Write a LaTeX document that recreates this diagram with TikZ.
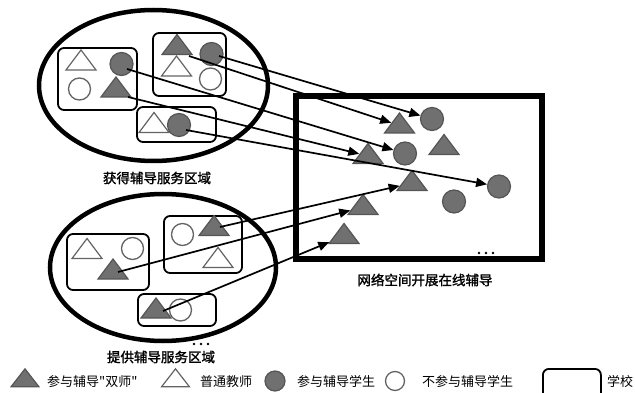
\documentclass[tikz,border=0pt]{standalone}
\usepackage{fontspec}
\newfontfamily\cjk{Noto Sans CJK SC}
\newfontfamily\cjkb[FakeBold=1.6]{Noto Sans CJK SC}
\usetikzlibrary{shapes.geometric,arrows.meta}
\definecolor{fgray}{RGB}{112,112,112}
\definecolor{dgray}{RGB}{85,85,85}
\definecolor{ogray}{RGB}{100,100,100}
\tikzset{
  region/.style={ellipse, draw=black, line width=4.5pt, inner sep=0pt},
  school/.style={rectangle, rounded corners=6pt, draw=black, line width=1.8pt, inner sep=0pt},
  fcirc/.style={circle, draw=dgray, fill=fgray, line width=1.2pt, minimum size=23pt, inner sep=0pt},
  ocirc/.style={circle, draw=ogray, fill=white, line width=1.3pt, minimum size=22pt, inner sep=0pt},
  tribase/.style={isosceles triangle, shape border rotate=90, isosceles triangle stretches, minimum width=30pt, minimum height=20pt, inner sep=0pt, line width=1.2pt},
  ftri/.style={tribase, draw=dgray, fill=fgray},
  otri/.style={tribase, draw=ogray, fill=white},
  arr/.style={line width=1.7pt, -{Triangle[length=11pt,width=9pt]}},
  lbl/.style={font=\cjkb\fontsize{13.5}{16}\selectfont},
  leg/.style={font=\cjk\fontsize{13}{15}\selectfont, anchor=west, inner sep=0pt},
  dotc/.style={circle, fill=black, inner sep=0pt, minimum size=2.6pt}
}
\begin{document}
\begin{tikzpicture}[x=1pt,y=-1pt]
\useasboundingbox (0,0) rectangle (635,393);
% regions
\node[region, minimum width=229pt, minimum height=151pt] (topreg) at (153.5,85.5) {};
\node[region, minimum width=226pt, minimum height=147pt] (botreg) at (163,267.5) {};
\node[rectangle, draw=black, line width=6pt, minimum width=246pt, minimum height=162pt, inner sep=0pt] (net) at (419,177.5) {};
% schools top
\node[school, minimum width=79pt, minimum height=62pt] (T1) at (97.5,79) {};
\node[school, minimum width=73pt, minimum height=63pt] (T2) at (189.5,64.5) {};
\node[school, minimum width=79pt, minimum height=35pt] (T3) at (176.5,124.5) {};
% schools bottom
\node[school, minimum width=82pt, minimum height=56pt] (B1) at (108,262) {};
\node[school, minimum width=78pt, minimum height=57pt] (B2) at (203,244.5) {};
\node[school, minimum width=78pt, minimum height=32pt] (B3) at (177,310) {};
% contents T1
\node[otri] (t1a) at (81,62.5) {};
\node[fcirc] (t1b) at (121.5,64) {};
\node[ocirc] (t1c) at (79.5,89) {};
\node[ftri] (t1d) at (116,89.5) {};
% contents T2
\node[ftri] (t2a) at (177,47) {};
\node[fcirc] (t2b) at (211.5,54) {};
\node[otri] (t2c) at (176.5,68.5) {};
\node[ocirc] (t2d) at (210.5,79) {};
% contents T3
\node[otri] (t3a) at (154,125) {};
\node[fcirc] (t3b) at (179,125) {};
% contents B1
\node[otri] (b1a) at (87,251) {};
\node[ocirc] (b1b) at (132.5,248.5) {};
\node[ftri] (b1c) at (113,271.5) {};
% contents B2
\node[ocirc] (b2a) at (182.5,234.5) {};
\node[ftri] (b2b) at (214,228) {};
\node[otri] (b2c) at (218,260) {};
% contents B3
\node[ocirc] (b3b) at (180.5,310) {};
\node[ftri] (b3a) at (156,310.5) {};
% network contents
\node[fcirc] (n1) at (432,119) {};
\node[ftri] (n2) at (399.5,125.5) {};
\node[fcirc] (n3) at (405,153.5) {};
\node[ftri] (n4) at (444,147) {};
\node[ftri] (n5) at (368,156) {};
\node[ftri] (n6) at (412,183) {};
\node[fcirc] (n7) at (499,186.5) {};
\node[fcirc] (n8) at (454,201.5) {};
\node[ftri] (n9) at (363,207) {};
\node[ftri] (n10) at (344,236) {};
% dots
\node[dotc] (d1) at (479,253) {};
\node[dotc] (d2) at (486,253) {};
\node[dotc] (d3) at (493,253) {};
\node[dotc] (e1) at (194,344) {};
\node[dotc] (e2) at (201,344) {};
\node[dotc] (e3) at (208,344) {};
% connector starts
\coordinate (s1) at (219,56);
\coordinate (s2) at (189,56);
\coordinate (s3) at (127,69);
\coordinate (s4) at (128,97);
\coordinate (s5) at (186,130);
\coordinate (s6) at (220,227);
\coordinate (s7) at (118,272);
\coordinate (s8) at (163,311);
% arrows
\draw[arr] (s1) -- (n1);
\draw[arr] (s2) -- (n2);
\draw[arr] (s3) -- (n3);
\draw[arr] (s4) -- (n5);
\draw[arr] (s5) -- (n7);
\draw[arr] (s6) -- (n6);
\draw[arr] (s7) -- (n9);
\draw[arr] (s8) -- (n10);
% labels
\node[lbl] (L1) at (157,178) {获得辅导服务区域};
\node[lbl] (L2) at (161,357) {提供辅导服务区域};
\node[lbl] (L3) at (425,280) {网络空间开展在线辅导};
% legend
\node[ftri, minimum width=28pt, minimum height=18pt] (g1) at (25,380) {};
\node[leg] (g1t) at (47,382) {参与辅导"双师"};
\node[otri, minimum width=28pt, minimum height=18pt] (g2) at (175.5,380) {};
\node[leg] (g2t) at (200,382) {普通教师};
\node[fcirc, minimum size=20pt] (g3) at (275,381) {};
\node[leg] (g3t) at (297,382) {参与辅导学生};
\node[ocirc, minimum size=19pt] (g4) at (395,381) {};
\node[leg] (g4t) at (422,382) {不参与辅导学生};
\node[school, minimum width=58pt, minimum height=34pt, anchor=north west] (g5) at (542,368) {};
\node[leg] (g5t) at (607,382) {学校};
\end{tikzpicture}
\end{document}
